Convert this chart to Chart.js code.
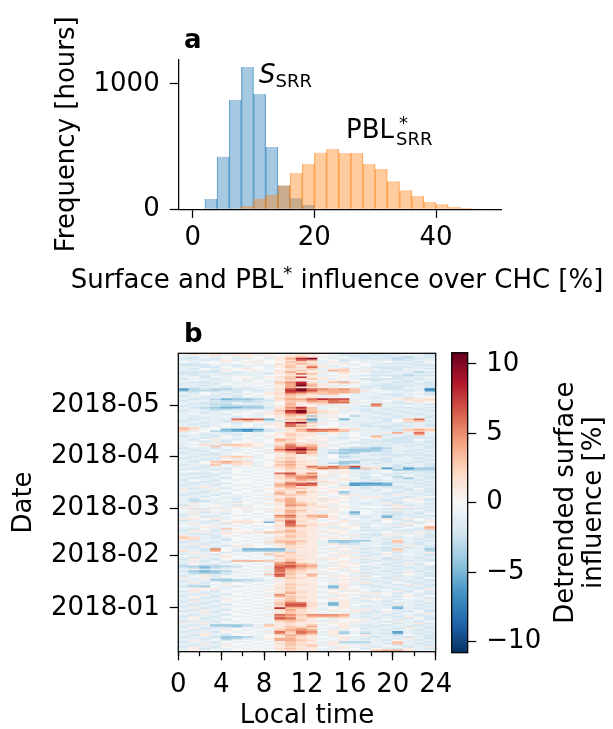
<!DOCTYPE html>
<html lang="en">
<head>
<meta charset="UTF-8">
<title>Surface influence</title>
<style>
  body { margin: 0; width: 613px; height: 729px; background: #fff; position: relative; overflow: hidden; }
  canvas { position: absolute; left: 0; }
</style>
</head>
<body>
<canvas id="hist" width="613" height="300" style="top:0"></canvas>
<canvas id="heat" width="613" height="429" style="top:300px"></canvas>
<canvas id="cbar" width="613" height="429" style="top:300px"></canvas>

<script src="https://cdn.jsdelivr.net/npm/chart.js"></script>
<script>
// ---- panel a: histogram (2 % bins) ----
const binCenters = [3, 5, 7, 9, 11, 13, 15, 17, 19, 21, 23, 25, 27, 29, 31, 33, 35, 37, 39, 41, 43, 45, 47];
const surfaceCounts = [82, 420, 872, 1136, 920, 497, 190, 88, 35, 0, 0, 0, 0, 0, 0, 0, 0, 0, 0, 0, 0, 0, 0];
const pblCounts = [0, 0, 2, 27, 82, 115, 190, 290, 362, 452, 481, 449, 449, 362, 322, 223, 152, 106, 59, 40, 19, 11, 3];
const histXTicks = [0, 20, 40];
const histYTicks = [0, 1000];

// ---- panel b: detrended surface influence per day and hour ----
const startDate = '2017-12-06';
const monthTicks = ['2018-01', '2018-02', '2018-03', '2018-04', '2018-05'];
const hourTicks = [0, 4, 8, 12, 16, 20, 24];
const hourMinorTicks = [0, 2, 4, 6, 8, 10, 12, 14, 16, 18, 20, 22, 24];
const cbarTicks = [-10, -5, 0, 5, 10];
const VMAX = 10.8;
// one char per hour: a..j = -1..-10, 0, 1..9, X = 10 ; rows newest (2018-05-31) first
const LEVELS = 'jihgfedcba0123456789X';
const heatRows = [
  '041322 110a01 210aaa babaab', 'a0a1a1 1a1012 10abbb bbaaab', 'ab0a0a 10a123 1aa0bb abbcab',
  'bbab0a a0a148 X0aaab bbcbba', 'aaba1a 0a0126 4a0baa aabbaa', '0a0010 110032 1a1a0a a0aab0',
  'bba0a0 0a0224 2a01a0 abbbaa', 'bbbaab aaa131 31a0a0 aaaabb', 'aabb0a a0a132 61aa0a bbbbaa',
  'ab0aa0 10a021 3a12aa abbaab', 'aaab10 010223 1a4301 aabaa0', 'bbbbab aaa142 11a2aa bbaacb',
  'bbaaba aab126 3a0100 aaabaa', 'abbaaa aa0021 1aa0ab bbbcbb', 'a0b0a0 0a1238 1101a0 a0baa0',
  'baaba0 1a0132 31a0ab bbbaba', 'a0aaa0 a0a121 0a1a0a baabaa', 'abbaaa a0a358 2a3420 aabbab',
  'baab0a 0a0249 3101aa abaabb', 'aabaa0 a0a14X 41aa0a bbbbab', 'abaaba aa0142 2110ab abbaab',
  'fcbccb baa27X 65453a abbaag', 'ecccbb aba18X 744431 0aabaf', 'ab0aab 0a1276 43443a a0aa0b',
  'aa0aba a01243 2331aa abbaab', 'baabab 0a0132 1a10aa aaba0a', 'aabaab aa0231 21aa0a baaba0',
  'abaced dca244 6877aa aa1212', 'baabcc cbb133 5465a0 a0a121', 'aabbba bba031 33661a aabaa0',
  'abbcca aaa041 12a0a0 6aabab', 'baabcc cca131 0a1aab 5aa0aa', 'abcdee ddb158 3aa1aa aabbab',
  'aabccb bba246 3a0aab abaaba', 'baabaa a0a38X 321aab aabaab', 'aaba0a 0a127X 421a0a baabaa',
  'a0aab0 0a1244 2a10aa abaaba', 'ab0a0a aa0132 d1a0ca aabaab', 'aabaab 0a0121 2a1aaa babaab',
  'abaaa6 76e134 fa0eaa ab036a', 'baaab2 32bb23 daaaaa ab023b', 'aabaab a0a18X 310aaa baabaa',
  'abaa0a 0a1163 1a0aab aabaab', 'aaba0a 0a0164 200aab bbbbab', '32a0aa aa0122 1010aa abaa11',
  '3200ef gfba24 76632a aab343', '2a0cde fdba13 5543aa aab232', 'a0aaba 0a0121 2a1a0a a14a6a',
  'aabaab aa0132 1a0a0a abaa4a', 'baab0a 0a1021 10aa0a 4aabaa', 'aaba0a a0a121 01aba0 2abbbb',
  'ab01ab 0a0431 10aa0b abbb0a', 'aabab0 0a0320 11a0aa bbbbab', 'a0a1a0 110132 1a0abb aabbab',
  'aa2a33 20a252 31aa0a abaaba', 'a0a3a2 21a364 41a0aa baabab', 'baab0a 0a0468 5a0bcc dcaaab',
  'abaaba a0a69X 6abddd dbaaba', 'aab0aa 0a1356 3abcdd cbabab', 'baaba0 a0a137 3acdca abaaba',
  'aabba0 0a0121 2a0baa bbbbbb', 'abaa23 2a0121 1a0cba aabaab', 'baab12 1a0231 0a0baa abaaba',
  'aaba0a a0a121 1aa0ab bbaaab', 'ab0343 2a0342 1aadda abaaba', 'aa0232 1a0231 1acdca baabab',
  'baa3a2 1a0342 1a0caa aabaab', 'aaba0a 0a1231 64647a aabbab', 'abaab0 a0a132 3654f3 2fbfdd',
  'baaba0 0a0121 21a0ab aaddcc', '00a0a0 a0a021 1011aa a0aabb', 'abbab0 0a0672 50a1ab aabbab',
  'baab0a a0a253 3110aa 0ba0ba', 'aabaa0 0a0245 61a0ab aacaab', 'abaab0 a0a235 5aa10b a0bdab',
  'b0ab0a 0a0124 3101aa baaaba', 'aaba00 00a132 1210ab aabbab', 'abaab0 0a0366 7a1aff feaaba',
  'baab0a a0a457 610bfe eeaaab', 'aa1aa0 0a0342 20a1ab abbaba', 'abaab0 a01133 1101ab aabb0b',
  '1aa10a 0a0221 1010aa b0abab', 'aabaa0 0a0314 2a1daa aabaab', 'abaab0 a0a423 110caa abaaba',
  'baab0a 0a1232 1a011a aa1aab', 'aab0aa a0a121 10a0a1 1aaba0', 'ab0aab 0a1241 1211aa aab11b',
  'acba0a a0a341 1a10a0 aba0ab', 'abbaab 0a0242 110aaa aaba0a', 'a10aa1 0a1143 2010ab a1baab',
  'baa0ab a0a154 21a0aa ab1baa', '1101a1 100132 1211a0 0011ab', 'abbaa0 aaa121 10a0ab abbbba',
  '011010 101243 1110a0 aa1a0b', 'aabaa0 a0a142 1a1ae0 abbaba', 'a1a0b0 0a0131 110ad0 aabab0',
  'baab0a a0a562 4410aa adbbab', 'a0baa0 0a0452 3410ab aeaaba', '1101a0 a0a231 201a0a a1b10a',
  'baab01 10a362 1a01aa b0ab01', 'aaba12 21e172 10a1aa a0aaba', 'a1aab0 a00161 2110ab aab1a0',
  '0a010a 0a0264 21a01a 0a1b01', 'aa1aa0 a0a132 1aa10b aab0a4', 'ab0a31 0a0121 101a0a ab0ab3',
  'b1aba0 0a0242 1a01ab babbab', 'aa1a11 123332 1110a0 a0aa1a', 'abba10 a0a122 10a1ab ba1aab',
  '1aab0a 0a0132 1a0a1a b1a0ab', '32aba0 a0a232 1110ab aabaab', '22aab0 0a1221 10a1aa ab1aba',
  'abaab0 a0a333 1adddd aa3aab', 'baab0a 0a2342 1acdca ab3aba', 'a1baa0 a0a132 1a1bba abaaba',
  'ab1ab1 100121 1a01aa 0ab1ab', 'bbab0a a0a122 10aa1a bbabab', 'aab50a eeee21 1a10ab ab3aad',
  '2ab40b ddddb1 10a1aa ab2aac', 'a1a0b0 a0a231 1a0a1b a0baa1', 'baab0a 0a3121 1011aa b1a0ab',
  '0a1a10 a0a322 10a1ab a0baab', 'abaa10 0a0121 1a1011 ab1aba', 'b1ab0a a0a232 1110ab abbaab',
  'aabaa4 443131 1a01aa baabab', 'a1a0b0 a0a462 10a1ab 0ab1a0', 'b0ab0a 0a0554 3a1010 abaab0',
  'ccdccb a0a675 4aa10b aabaab', 'bcecbb 0a1764 3a01aa baabab', 'a1baa0 a0a643 201a0b aabaab',
  'bdedca 0a1632 1a0a1a abaaba', 'acddba a0a532 11a0ab aab1ab', 'ab1ab0 0a3731 4a10a1 baa0ab',
  'b0ab0a a0a621 30a1ab 0abaab', '1a1aa0 0a0232 1a1011 ab1ab0', 'aaaddc cbaa21 10a1ab aabaab',
  'baabcc bba121 1aa01a baabab', 'a1b0a0 a0a121 1011a1 ab0aba', 'abaa10 0a0132 10a1ab aab1ab',
  'bcd0ab a0a121 1ae10a baabab', 'aa1aa0 0a0231 1ad10a abaaba', '0101a0 a01121 1011a0 a0baa1',
  'b1ab0a 0a0132 1a0a1a ba1b0b', 'aabaa0 a0a242 1a1001 10baab', 'ab1ab0 0a1521 10a1aa a0a0ba',
  'b0ab0a a0a432 1aa10b aab1a0', 'a1baa0 0a0132 1a10a1 1aa0ab', 'abaa10 a0a231 1011aa 0abaa1',
  'b1ab0a 0a0242 10a1ab ab0aba', 'aabaa0 a0a366 2ae1a0 aabaab', 'abaab0 0a0377 2ae10a ab1aba',
  'baab0a a0a266 20a1ab aadaab', 'a1baa0 0a1833 1a01aa aaeaba', 'ab1ab0 a0a242 1a1011 a0baab',
  'baab0a 0a0132 10aa1a b1ab0b', '0a1aa0 a0a232 1a01ab aab0a1', 'abaab0 0a1653 5554aa abaaba',
  'b1ab0a a0a542 4443ab aab1ab', 'a0baa0 0a0762 10a1aa baab0b', 'a1aab0 a0a443 1a1001 a0baab',
  'baab0a 0a0232 1aa01a ab1ab0', '1a1aa0 a0a121 1011aa a0ba1b', 'abaddd ca3121 3a01ab abaaba',
  'baaccd ba2132 40a1aa baabab', 'a1baa0 0a0234 2aa10b aab1ab', 'abaa10 a0a345 401a0a abaaba',
  'baab0a 0a1636 5a1cab aafaab', 'aa1aa0 a0a526 4a1dac abeaba', 'ab1ab0 0a0243 2a1001 aab0ab',
  'baabdd ca0132 10a1aa baabab', 'aabadc ba1442 1a01ab aab1ab', 'a1a0b0 0a0443 20a1aa ab0aba',
  'baab0a a0a132 1a1ccc aa3aab', 'aa1aa0 0a0232 1a1bbb ab3aba', 'abaa10 a0a132 3a1001 a0baab',
  'b1ab0a 0a0121 20a1aa ba0ba1', 'a1baa0 a0a232 1aa10b 0ab1ab', 'a0a0a0 0a0121 1a10a0 3441aa'
];

// RdBu reversed (ColorBrewer stops)
const RDBU_R = ['#053061', '#2166ac', '#4393c3', '#92c5de', '#d1e5f0', '#f7f7f7',
                '#fddbc7', '#f4a582', '#d6604d', '#b2182b', '#67001f'];
function hex(c) { return [1, 3, 5].map(i => parseInt(c.slice(i, i + 2), 16)); }
const STOPS = RDBU_R.map(hex);
function cmap(v) {
  let t = (v + VMAX) / (2 * VMAX);
  t = Math.min(1, Math.max(0, t)) * (STOPS.length - 1);
  const i = Math.min(STOPS.length - 2, Math.floor(t)), f = t - i;
  const c = STOPS[i].map((a, k) => Math.round(a + (STOPS[i + 1][k] - a) * f));
  return `rgb(${c[0]},${c[1]},${c[2]})`;
}

const FONT = '"DejaVu Sans", sans-serif';
const F = 26;
const SUB = 18;
const font = { family: FONT, size: F };
const titleFont = { family: FONT, size: F, lineHeight: 1 };
Chart.defaults.color = '#000';
Chart.defaults.animation = false;

const frame = {
  id: 'frame',
  afterDatasetsDraw(chart) {
    const a = chart.chartArea, c = chart.ctx;
    c.save();
    c.strokeStyle = '#000';
    c.lineWidth = 1.25;
    c.strokeRect(a.left, a.top, a.right - a.left, a.bottom - a.top);
    c.restore();
  }
};

function fixedTicks(list) {
  return s => { s.ticks = list.map(v => ({ value: v })); };
}
const tickGrid = len => ({ offset: false, drawOnChartArea: false, drawTicks: true, tickLength: len, tickWidth: 1.25, tickColor: '#000' });

// ---------- panel a ----------
const histLabels = {
  id: 'histLabels',
  afterDraw(chart) {
    const c = chart.ctx, x = chart.scales.x, y = chart.scales.y;
    c.save();
    c.fillStyle = '#000';
    c.textBaseline = 'alphabetic';
    c.font = `bold ${F}px ${FONT}`;
    c.fillText('a', 184, 48.3);

    let px = x.getPixelForValue(10.9), py = y.getPixelForValue(1005);
    c.font = `italic ${F}px ${FONT}`;
    c.fillText('S', px, py);
    const sw = c.measureText('S').width;
    c.font = `${SUB}px ${FONT}`;
    c.fillText('SRR', px + sw, py + 3.4);

    px = x.getPixelForValue(25.2); py = y.getPixelForValue(571);
    c.font = `${F}px ${FONT}`;
    c.fillText('PBL', px, py);
    const pw = c.measureText('PBL').width;
    c.font = `${SUB}px ${FONT}`;
    c.fillText('*', px + pw + 5, py - 9);
    c.fillText('SRR', px + pw + 2, py + 7.3);

    // x axis title with superscript asterisk
    const parts = [['Surface and PBL', F, 0], ['*', SUB, -9], [' influence over CHC [%]', F, 0]];
    let total = 0;
    parts.forEach(p => { c.font = `${p[1]}px ${FONT}`; p.push(c.measureText(p[0]).width); total += p[3]; });
    let cx = 337 - total / 2;
    parts.forEach(p => { c.font = `${p[1]}px ${FONT}`; c.fillText(p[0], cx, 288 + p[2]); cx += p[3]; });
    c.restore();
  }
};

new Chart(document.getElementById('hist'), {
  type: 'bar',
  data: {
    datasets: [
      {
        label: 'S_SRR',
        data: binCenters.map((x, i) => ({ x, y: surfaceCounts[i] })).filter(p => p.y > 0),
        backgroundColor: 'rgba(31,119,180,0.4)',
        borderColor: 'rgba(31,119,180,0.55)',
        borderWidth: { left: 0.6, right: 0.6, top: 0, bottom: 0 },
        order: 2
      },
      {
        label: 'PBL*_SRR',
        data: binCenters.map((x, i) => ({ x, y: pblCounts[i] })).filter(p => p.y > 0),
        backgroundColor: 'rgba(255,127,14,0.4)',
        borderColor: 'rgba(255,127,14,0.55)',
        borderWidth: { left: 0.6, right: 0.6, top: 0, bottom: 0 },
        order: 1
      }
    ]
  },
  options: {
    responsive: false,
    layout: { padding: { left: 0, right: 111.3, top: 59.3, bottom: 0 } },
    datasets: { bar: { barPercentage: 1, categoryPercentage: 1, grouped: false } },
    plugins: { legend: { display: false }, tooltip: { enabled: false } },
    scales: {
      x: {
        type: 'linear', min: -2.37, max: 50.8, offset: false,
        afterBuildTicks: fixedTicks(histXTicks),
        afterFit: s => { s.height = 90.7; },
        ticks: { font, padding: 5, maxRotation: 0, callback: v => String(v) },
        grid: tickGrid(8.6),
        border: { display: true, color: '#000', width: 1.25 }
      },
      y: {
        min: 0, max: 1197,
        afterBuildTicks: fixedTicks(histYTicks),
        afterFit: s => { s.width = 178.3; },
        ticks: { font, padding: 10, callback: v => String(v) },
        grid: tickGrid(8.6),
        border: { display: true, color: '#000', width: 1.25 },
        title: { display: true, text: 'Frequency [hours]', font: titleFont, padding: { top: 54, bottom: 0 } }
      }
    }
  },
  plugins: [histLabels]
});

// ---------- panel b ----------
const nDays = heatRows.length;
const dayMs = 86400000;
const t0 = Date.parse(startDate);
const monthPos = monthTicks.map(m => Math.round((Date.parse(m + '-01') - t0) / dayMs));

const cells = [];
heatRows.forEach((row, r) => {
  const d = nDays - 1 - r;
  row.replace(/ /g, '').split('').forEach((ch, h) => {
    cells.push({ x: h + 0.5, y: [d, d + 1], v: LEVELS.indexOf(ch) - 10 });
  });
});

const heatLabel = {
  id: 'heatLabel',
  afterDraw(chart) {
    const c = chart.ctx;
    c.save();
    c.fillStyle = '#000';
    c.font = `bold ${F}px ${FONT}`;
    c.fillText('b', 184, 41.7);
    c.restore();
  }
};

new Chart(document.getElementById('heat'), {
  type: 'bar',
  data: {
    datasets: [{
      data: cells,
      backgroundColor: ctx => cmap(ctx.raw.v),
      borderWidth: 0,
      inflateAmount: 0.5,
      barPercentage: 1,
      categoryPercentage: 1
    }]
  },
  options: {
    responsive: false,
    layout: { padding: { left: 0, right: 177.3, top: 53.3, bottom: 0 } },
    plugins: { legend: { display: false }, tooltip: { enabled: false } },
    scales: {
      xMinor: {
        axis: 'x', type: 'linear', position: 'bottom', min: 0, max: 24, weight: 0, offset: false,
        afterBuildTicks: fixedTicks(hourMinorTicks),
        afterFit: s => { s.height = 0; },
        ticks: { display: false },
        grid: tickGrid(4.5),
        border: { display: false }
      },
      x: {
        type: 'linear', position: 'bottom', min: 0, max: 24, weight: 1, offset: false,
        afterBuildTicks: fixedTicks(hourTicks),
        afterFit: s => { s.height = 77.3; },
        ticks: { font, padding: 9, maxRotation: 0, autoSkip: false, callback: v => String(v) },
        grid: tickGrid(8.6),
        border: { display: false },
        title: { display: true, text: 'Local time', font: titleFont, padding: { top: 0, bottom: 0 } }
      },
      y: {
        type: 'linear', min: 0, max: nDays,
        afterBuildTicks: fixedTicks(monthPos),
        afterFit: s => { s.width = 178.3; },
        ticks: { font, padding: 10, callback: v => monthTicks[monthPos.indexOf(v)] },
        grid: tickGrid(8.6),
        border: { display: false },
        title: { display: true, text: 'Date', font: titleFont, padding: { top: 11, bottom: 0 } }
      }
    }
  },
  plugins: [frame, heatLabel]
});

// ---------- colour bar ----------
const cbarSteps = 120;
const cbarCells = [];
for (let i = 0; i < cbarSteps; i++) {
  const lo = -VMAX + (2 * VMAX) * i / cbarSteps, hi = -VMAX + (2 * VMAX) * (i + 1) / cbarSteps;
  cbarCells.push({ x: 0, y: [lo, hi], v: (lo + hi) / 2 });
}

const cbarTitle = {
  id: 'cbarTitle',
  afterDraw(chart) {
    const c = chart.ctx, a = chart.chartArea;
    const cy = (a.top + a.bottom) / 2;
    c.save();
    c.fillStyle = '#000';
    c.font = `${F}px ${FONT}`;
    c.textAlign = 'center';
    c.textBaseline = 'alphabetic';
    [['Detrended surface', 573], ['influence [%]', 601]].forEach(([txt, bx]) => {
      c.save();
      c.translate(bx, cy);
      c.rotate(-Math.PI / 2);
      c.fillText(txt, 0, 0);
      c.restore();
    });
    c.restore();
  }
};

new Chart(document.getElementById('cbar'), {
  type: 'bar',
  data: {
    datasets: [{
      data: cbarCells,
      backgroundColor: ctx => cmap(ctx.raw.v),
      borderWidth: 0,
      inflateAmount: 0.5,
      barThickness: 16
    }]
  },
  options: {
    responsive: false,
    layout: { padding: { left: 451.7, right: 0, top: 52.7, bottom: 76.3 } },
    plugins: { legend: { display: false }, tooltip: { enabled: false } },
    scales: {
      x: { type: 'linear', min: -1, max: 1, display: false },
      y: {
        position: 'right', min: -VMAX, max: VMAX,
        afterBuildTicks: fixedTicks(cbarTicks),
        afterFit: s => { s.width = 145.3; },
        ticks: { font, padding: 10, callback: v => (v < 0 ? '\u2212' + Math.abs(v) : String(v)) },
        grid: tickGrid(8.6),
        border: { display: false }
      }
    }
  },
  plugins: [frame, cbarTitle]
});
</script>
</body>
</html>
